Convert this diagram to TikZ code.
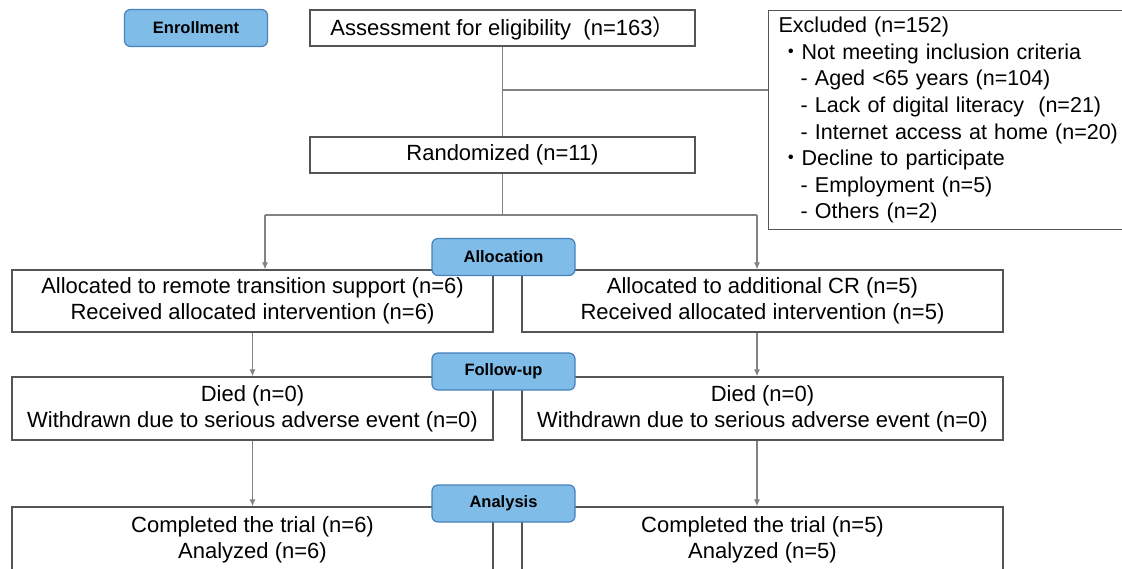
\documentclass[tikz,border=0pt]{standalone}
\usepackage{fontspec}
\setmainfont{Liberation Sans}
\newfontfamily\cjkfont{Noto Sans CJK JP}
\usetikzlibrary{positioning,arrows.meta}
\definecolor{stagefill}{RGB}{128,188,232}
\definecolor{stageline}{RGB}{72,128,186}
\definecolor{linkgray}{RGB}{130,130,130}
\definecolor{boxgray}{RGB}{85,85,85}

\begin{document}
\begin{tikzpicture}[x=1pt,y=-1pt,
  stage/.style={draw=stageline,fill=stagefill,rounded corners=6pt,line width=1.2pt,minimum width=143pt,minimum height=37pt,font=\fontsize{16.5}{20}\selectfont\bfseries},
  box/.style={draw=boxgray,fill=white,line width=1.3pt,minimum width=385pt,minimum height=36pt,font=\fontsize{22}{26}\selectfont,align=center},
  wide/.style={box,minimum width=481pt,minimum height=62pt},
  link/.style={draw=linkgray,line width=1.2pt},
  arr/.style={link,-{Latex[length=7pt,width=6pt]}}]
        \useasboundingbox (0,0) rectangle (1122,569);
        \clip (0,0) rectangle (1122,569);

        \node[stage] (enroll) at (196,28) {Enrollment};
        \node[box] (assess) at (502.5,28) {Assessment for eligibility~~(n=163{\cjkfont ）}};
        \node[box] (rand) at (502.5,155) {Randomized (n=11)};
        \node[box,anchor=north west,align=left,minimum width=362pt,minimum height=219pt,text width=370pt,inner xsep=10pt,font=\fontsize{21.5}{26.6}\selectfont] (excl) at (768,10)
        {Excluded (n=152)\\
        \hspace*{1.5pt}{\cjkfont ・}Not meeting inclusion criteria\\
        \hspace*{22pt}- Aged <65 years (n=104)\\
        \hspace*{22pt}- Lack of digital literacy~~(n=21)\\
        \hspace*{22pt}- Internet access at home (n=20)\\
        \hspace*{1.5pt}{\cjkfont ・}Decline to participate\\
        \hspace*{22pt}- Employment (n=5)\\
        \hspace*{22pt}- Others (n=2)};

        \node[wide] (alocl) at (252.5,301) {Allocated to remote transition support (n=6)\\Received allocated intervention (n=6)};
        \node[wide] (alocr) at (762.5,301) {Allocated to additional CR (n=5)\\Received allocated intervention (n=5)};
        \node[wide,minimum height=63pt] (folll) at (252.5,408.5) {Died (n=0)\\Withdrawn due to serious adverse event (n=0)};
        \node[wide,minimum height=63pt] (follr) at (762.5,408.5) {Died (n=0)\\Withdrawn due to serious adverse event (n=0)};
        \node[wide,minimum height=66pt] (anall) at (252.5,540) {Completed the trial (n=6)\\Analyzed (n=6)};
        \node[wide,minimum height=66pt] (analr) at (762.5,540) {Completed the trial (n=5)\\Analyzed (n=5)};

        \coordinate (exclsplit) at (502.5,90);
        \coordinate (randsplit) at (502.5,215);
        \coordinate (splitl) at (265,215);
        \coordinate (splitr) at (757,215);

        \path[link] (assess) -- (rand);
        \path[link] (exclsplit) -- (exclsplit -| excl.west);
        \path[link] (rand) -- (randsplit);
        \path[link] (splitl) -- (splitr);
        \path[arr] (splitl) -- (splitl |- alocl.north);
        \path[arr] (splitr) -- (splitr |- alocr.north);
        \path[arr] (alocl) -- (folll);
        \path[arr] (alocr.south -| splitr) -- (follr.north -| splitr);
        \path[arr] (folll) -- (anall);
        \path[arr] (follr.south -| splitr) -- (analr.north -| splitr);

        \node[stage] (alloc) at (503.5,257) {Allocation};
        \node[stage] (follow) at (503.5,371.5) {Follow-up};
        \node[stage] (analysis) at (503.5,503.5) {Analysis};
    \end{tikzpicture}
\end{document}
